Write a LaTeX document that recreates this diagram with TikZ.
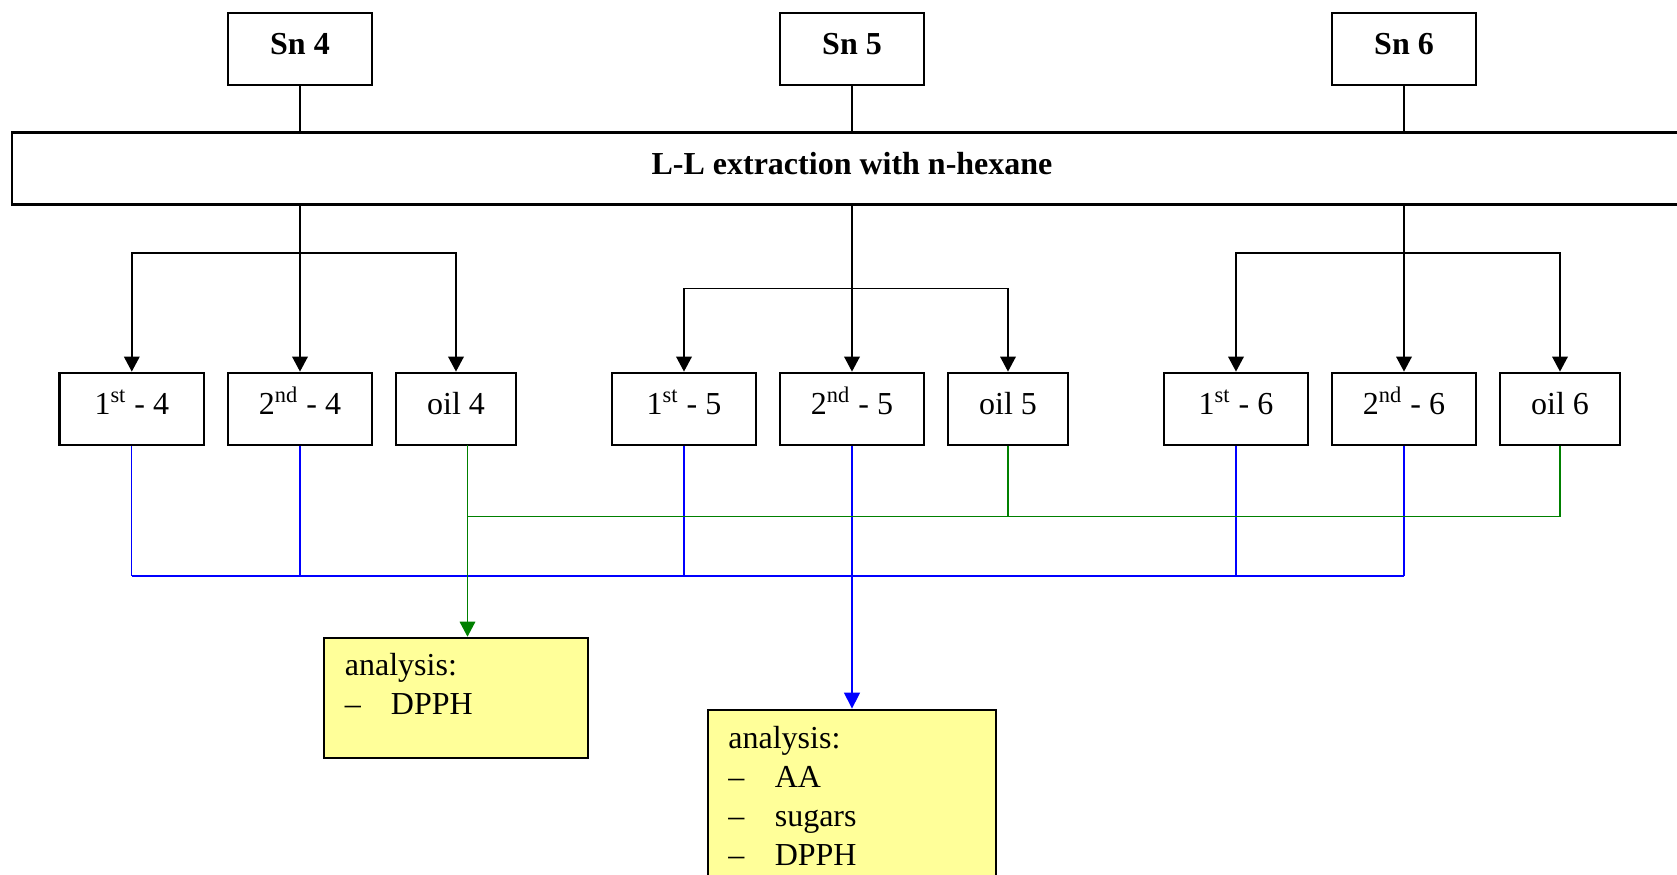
\documentclass[tikz,border=0pt]{standalone}
\usepackage{fontspec}
\setmainfont{Liberation Serif}
\usetikzlibrary{arrows.meta}
\definecolor{notefill}{RGB}{255,255,153}
\definecolor{flowblue}{RGB}{0,0,255}
\definecolor{flowgreen}{RGB}{0,128,0}
\begin{document}
\begin{tikzpicture}[x=0.5pt,y=-0.5pt,
  every node/.style={font=\fontsize{16}{19.5}\selectfont},
  box/.style={draw, line width=1.1pt, inner sep=0pt, minimum height=36pt,
              text height=8pt, text depth=1.8pt},
  wide/.style={box, minimum width=72.25pt},
  narrow/.style={box, minimum width=60.25pt},
  head/.style={box, font=\fontsize{16}{19.5}\selectfont\bfseries, minimum width=72.3pt},
  note/.style={draw, line width=1.1pt, fill=notefill, inner sep=0pt, anchor=north},
  notetext/.style={anchor=base west, inner sep=0pt},
  link/.style={line width=0.8pt},
  arr/.style={link, -{Triangle[length=7.5pt,width=7.8pt]}},
  bluelink/.style={flowblue, line width=0.6pt},
  bluebus/.style={flowblue, line width=1pt},
  greenlink/.style={flowgreen, line width=0.7pt},
]
\useasboundingbox (0,0) rectangle (1677,874);
\clip (0,0) rectangle (1677,874);

% samples
\node[head] (sn4) at (300,48.7) {Sn 4};
\node[head] (sn5) at (852,48.7) {Sn 5};
\node[head] (sn6) at (1404,48.7) {Sn 6};

% extraction step (runs past the right edge)
\node[box, font=\fontsize{16}{19.5}\selectfont\bfseries, minimum width=840.2pt]
  (ext) at (852,168.5) {L-L extraction with n-hexane};

% fractions
\node[wide]   (f14) at (131.8,408.7) {1\textsuperscript{st} - 4};
\node[wide]   (f24) at (300,408.7)   {2\textsuperscript{nd} - 4};
\node[narrow] (o4)  at (456,408.7)   {oil 4};
\node[wide]   (f15) at (684,408.7)   {1\textsuperscript{st} - 5};
\node[wide]   (f25) at (852,408.7)   {2\textsuperscript{nd} - 5};
\node[narrow] (o5)  at (1008,408.7)  {oil 5};
\node[wide]   (f16) at (1236,408.7)  {1\textsuperscript{st} - 6};
\node[wide]   (f26) at (1404,408.7)  {2\textsuperscript{nd} - 6};
\node[narrow] (o6)  at (1560,408.7)  {oil 6};

% analysis boxes
\node[note, minimum width=132.1pt, minimum height=60pt] (an1) at (456.2,636.7) {};
\node[note, minimum width=143.95pt, minimum height=100pt] (an2) at (852,708.7) {};

\node[notetext] (an1t) at (344.5,675) {analysis:};
\node[notetext] (an1d) at (344.5,714) {–};
\node[notetext] (an1i) at (390.5,714) {DPPH};

\node[notetext] (an2t) at (728,748) {analysis:};
\node[notetext] (an2d1) at (728,787) {–};
\node[notetext] (an2i1) at (774.4,787) {AA};
\node[notetext] (an2d2) at (728,826) {–};
\node[notetext] (an2i2) at (774.4,826) {sugars};
\node[notetext] (an2d3) at (728,865) {–};
\node[notetext] (an2i3) at (774.4,865) {DPPH};

% samples into extraction
\draw[link] (sn4.south) -- (sn4.south |- ext.north);
\draw[link] (sn5.south) -- (sn5.south |- ext.north);
\draw[link] (sn6.south) -- (sn6.south |- ext.north);

% extraction into fractions
\coordinate (j4) at (300,252.7);
\coordinate (j5) at (852,288.3);
\coordinate (j6) at (1404,252.7);
\draw[link] (ext.south -| j4) -- (j4);
\draw[link] (ext.south -| j5) -- (j5);
\draw[link] (ext.south -| j6) -- (j6);
\draw[arr] (j4) -- (f24.north);
\draw[arr] (j4) -| (f14.north);
\draw[arr] (j4) -| (o4.north);
\draw[arr] (j5) -- (f25.north);
\draw[arr] (j5) -| (f15.north);
\draw[arr] (j5) -| (o5.north);
\draw[arr] (j6) -- (f26.north);
\draw[arr] (j6) -| (f16.north);
\draw[arr] (j6) -| (o6.north);

% aqueous fractions (blue)
\coordinate (busB) at (0,576);
\foreach \f in {f14,f24,f15,f25,f16,f26}
  \draw[bluelink] (\f.south) -- (\f.south |- busB);
\draw[bluebus] (f14.south |- busB) -- (f26.south |- busB);
\draw[bluebus, -{Triangle[length=8pt,width=7.8pt]}] (f25.south |- busB) -- (an2.north);

% oil fractions (green)
\coordinate (busG) at (0,516.7);
\coordinate (g4) at (467.5,444.7);
\draw[greenlink] (g4) -- (g4 |- busG);
\draw[greenlink] (o5.south) -- (o5.south |- busG);
\draw[greenlink] (o6.south) -- (o6.south |- busG);
\draw[greenlink] (g4 |- busG) -- (o6.south |- busG);
\draw[greenlink, -{Triangle[length=7.5pt,width=7.8pt]}] (g4 |- busG) -- (g4 |- an1.north);
\end{tikzpicture}
\end{document}
